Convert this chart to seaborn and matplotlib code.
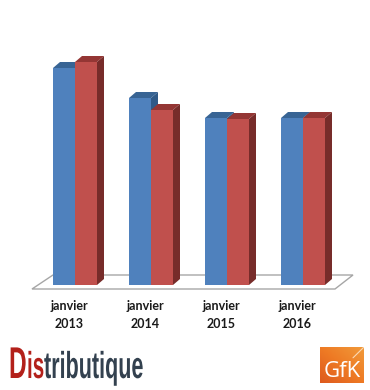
import numpy as np
import pandas as pd
import matplotlib
matplotlib.use('Agg')
import matplotlib.pyplot as plt
import matplotlib.patheffects as pe
import matplotlib.transforms as mtrans
from matplotlib.patches import Polygon
from matplotlib.text import Text
import seaborn as sns

# Donnees (pas d'axe visible, echelle relative)
mois = ['janvier\n2013', 'janvier\n2014', 'janvier\n2015', 'janvier\n2016']
serie_bleue = [217, 187, 167, 167]
serie_rouge = [223, 175, 166, 167]

W, H = 370, 390
BASE_Y = 285          # ligne de base en pixels
PAS = 76              # pixels entre deux groupes
DX, DY = 7 / PAS, 6   # profondeur de l'effet 3D


# Pas de police etroite installee : on resserre le texte a l'affichage
class Serre(pe.AbstractPathEffect):
    def __init__(self, x0, sx):
        super().__init__()
        self.x0, self.sx = x0, sx

    def draw_path(self, renderer, gc, tpath, affine, rgbFace=None):
        t = affine + mtrans.Affine2D().translate(-self.x0, 0).scale(self.sx, 1).translate(self.x0, 0)
        renderer.draw_path(gc, tpath, t, rgbFace)


class TexteEtroit(Text):
    def __init__(self, x_px, y_px, texte, sx, **kw):
        super().__init__(x_px / W, 1 - y_px / H, texte, **kw)
        self.x_px, self.sx = x_px, sx
        self.set_path_effects([Serre(x_px, sx)])

    def get_window_extent(self, renderer=None, dpi=None):
        bb = super().get_window_extent(renderer, dpi)
        return mtrans.Bbox.from_extents(bb.x0, bb.y0, bb.x0 + bb.width * self.sx, bb.y1)


df = pd.DataFrame({
    'mois': mois * 2,
    'valeur': serie_bleue + serie_rouge,
    'serie': ['bleu'] * 4 + ['rouge'] * 4,
})

sns.set_style('white')
plt.rcParams['font.family'] = ['Lato', 'DejaVu Sans']

fig = plt.figure(figsize=(W / 100, H / 100), dpi=100, facecolor='white')
ax = fig.add_axes([37 / W, (H - BASE_Y) / H, 304 / W, BASE_Y / H])

sns.barplot(data=df, x='mois', y='valeur', hue='serie', ax=ax, legend=False,
            palette={'bleu': '#4F81BD', 'rouge': '#C0504D'},
            saturation=1, width=44 / PAS, gap=0, linewidth=0)

ax.set_xlim(-0.5, 3.5)
ax.set_ylim(0, BASE_Y)
ax.set_xlabel('')
ax.set_ylabel('')
ax.set_yticks([])
sns.despine(ax=ax, left=True, bottom=True)
ax.patch.set_alpha(0)

# Effet 3D : dessus et cote de chaque barre
couleurs_3d = [('#386494', '#305A88'), ('#943634', '#772C2A')]
for i, cont in enumerate(ax.containers):
    dessus, cote = couleurs_3d[i]
    z = 2 + 2 * i
    for bar in cont:
        x0, x1 = bar.get_x(), bar.get_x() + bar.get_width()
        h = bar.get_height()
        bar.set_zorder(z + 1)
        ax.add_patch(Polygon([(x0, h), (x1, h), (x1 + DX, h + DY), (x0 + DX, h + DY)],
                             closed=True, fc=dessus, ec='none', zorder=z))
        ax.add_patch(Polygon([(x1, 0), (x1, h), (x1 + DX, h + DY), (x1 + DX, DY)],
                             closed=True, fc=cote, ec='none', zorder=z))


# Plancher du graphique
def px(x):
    return (x - 75) / PAS


ax.add_patch(Polygon([(px(32), -4), (px(53), 10), (px(353), 10), (px(335), -4)],
                     closed=True, fc='white', ec='#A6A6A6', lw=1, zorder=1, clip_on=False))

# Etiquettes
ax.tick_params(axis='x', length=0, pad=11)
decal = mtrans.ScaledTranslation(-6 / 100, 0, fig.dpi_scale_trans)
for lab in ax.get_xticklabels():
    lab.set_fontsize(9)
    lab.set_fontweight('bold')
    lab.set_color('#1A1A1A')
    lab.set_linespacing(1.55)
    lab.set_transform(lab.get_transform() + decal)

# Logo Distributique
fam = ['Liberation Sans', 'DejaVu Sans']
fig.add_artist(TexteEtroit(9, 378, 'D', 0.55, color='#B3201A', fontsize=32, fontweight='bold', family=fam))
fig.add_artist(TexteEtroit(27, 378, 'is', 0.55, color='#B3201A', fontsize=27, fontweight='bold', family=fam))
fig.add_artist(TexteEtroit(44, 378, 'tributique', 0.575, color='#33414F', fontsize=27, fontweight='bold', family=fam))

# Logo GfK
ax_logo = fig.add_axes([320 / W, 1 - 383 / H, 44 / W, 36 / H])
degrade = np.linspace(0, 1, 40).reshape(1, -1) + np.linspace(1, 0, 40).reshape(-1, 1)
cmap = matplotlib.colors.LinearSegmentedColormap.from_list('gfk', ['#DE5A1E', '#EE7A24', '#F19A3A'])
ax_logo.imshow(degrade, cmap=cmap, aspect='auto', extent=(0, 1, 0, 1))
ax_logo.plot([0.75, 1], [0.7, 1], color='#FBD9B5', lw=0.8)
ax_logo.text(0.5, 0.33, 'GfK', color='white', fontsize=16, ha='center', va='center',
             family=['Open Sans', 'DejaVu Sans'])
ax_logo.set_xlim(0, 1)
ax_logo.set_ylim(0, 1)
ax_logo.axis('off')

fig.savefig('out.png', dpi=100)
